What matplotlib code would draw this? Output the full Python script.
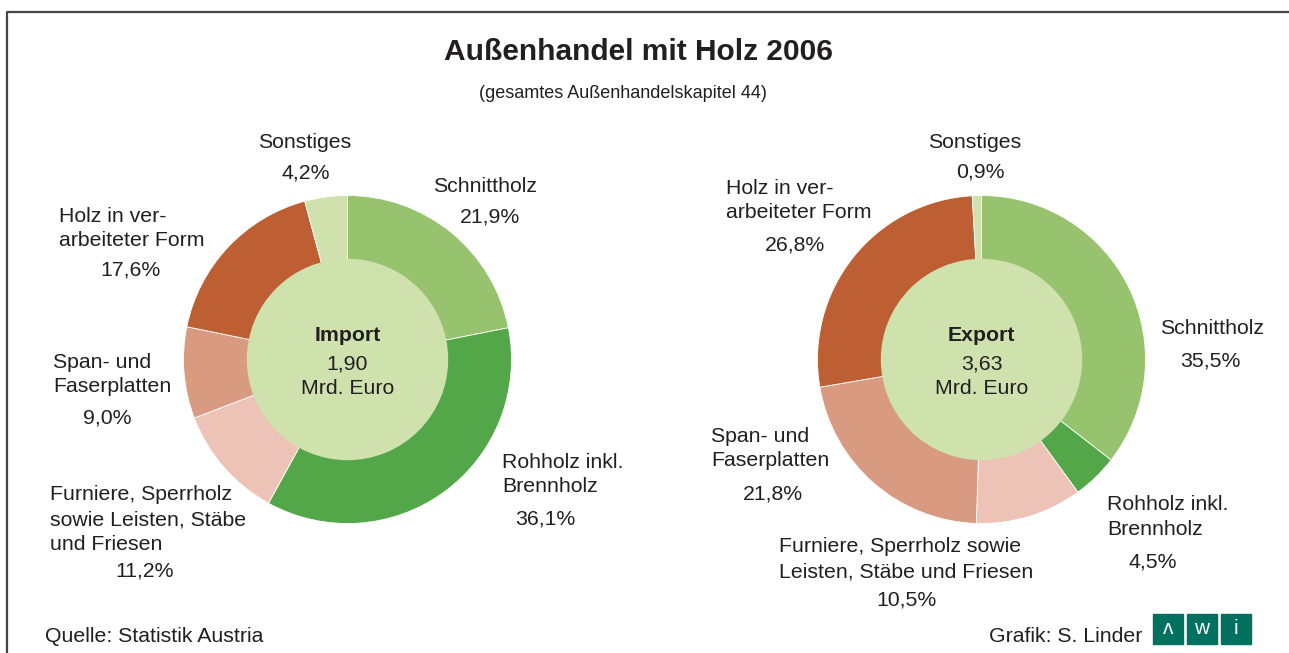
import matplotlib
matplotlib.use("Agg")
import matplotlib.pyplot as plt
from matplotlib.patches import Circle, Rectangle

plt.rcParams['font.family'] = ['Liberation Sans', 'DejaVu Sans']

# Daten (Anteile in %, Reihenfolge im Uhrzeigersinn ab 12 Uhr)
kategorien = ['Schnittholz', 'Rohholz inkl. Brennholz',
              'Furniere, Sperrholz sowie Leisten, Stäbe und Friesen',
              'Span- und Faserplatten', 'Holz in verarbeiteter Form', 'Sonstiges']
import_anteil = [21.9, 36.1, 11.2, 9.0, 17.6, 4.2]
export_anteil = [35.5, 4.5, 10.5, 21.8, 26.8, 0.9]
summe = ['1,90', '3,63']   # Mrd. Euro
farben = ['#97c36e', '#53a749', '#ecc3b6', '#d99a82', '#bd5e33', '#cfe2ae']

txt = '#231f20'
fs = 15.3

W, H = 1289, 653
fig = plt.figure(figsize=(W / 100, H / 100), dpi=100)
ax = fig.add_axes([0, 0, 1, 1])
ax.set_xlim(0, W)
ax.set_ylim(H, 0)
ax.set_aspect('equal')
ax.axis('off')


def pct(v):
    return f"{v:.1f}".replace('.', ',') + '%'


def ring(cx, cy, werte, titel, betrag):
    # y-Achse ist invertiert: startangle -90 = oben, counterclock -> visuell im Uhrzeigersinn
    ax.pie(werte, colors=farben, startangle=-90, counterclock=True,
           center=(cx, cy), radius=164, frame=True,
           wedgeprops=dict(linewidth=0.6, edgecolor='white'))
    ax.add_patch(Circle((cx, cy), 100, color=farben[5], zorder=3))
    ax.text(cx, cy - 24, titel, ha='center', va='center', fontsize=fs,
            fontweight='bold', color=txt, zorder=4)
    ax.text(cx, cy + 5, betrag, ha='center', va='center', fontsize=fs, color=txt, zorder=4)
    ax.text(cx, cy + 29, 'Mrd. Euro', ha='center', va='center', fontsize=fs, color=txt, zorder=4)


ring(347.5, 359.5, import_anteil, 'Import', summe[0])
ring(981.5, 359.5, export_anteil, 'Export', summe[1])
ax.set_xlim(0, W)
ax.set_ylim(H, 0)
ax.axis('off')

# Beschriftungen: (Zeilen, x, y der ersten Zeile, ha, x/y Prozentwert)
imp_lab = [
    (['Schnittholz'], 485, 187, 'center', 490, 217),
    (['Rohholz inkl.', 'Brennholz'], 502, 462, 'left', 545, 519),
    (['Furniere, Sperrholz', 'sowie Leisten, Stäbe', 'und Friesen'], 50, 495, 'left', 145, 571),
    (['Span- und', 'Faserplatten'], 53, 362, 'left', 107, 418),
    (['Holz in ver-', 'arbeiteter Form'], 59, 216, 'left', 131, 270),
    (['Sonstiges'], 305, 143, 'center', 306, 173),
]
exp_lab = [
    (['Schnittholz'], 1160, 329, 'left', 1210, 361),
    (['Rohholz inkl.', 'Brennholz'], 1107, 505, 'left', 1153, 562),
    (['Furniere, Sperrholz sowie', 'Leisten, Stäbe und Friesen'], 779, 547, 'left', 907, 600),
    (['Span- und', 'Faserplatten'], 711, 436, 'left', 773, 494),
    (['Holz in ver-', 'arbeiteter Form'], 726, 188, 'left', 795, 245),
    (['Sonstiges'], 975, 142, 'center', 980, 172),
]

for labs, werte in [(imp_lab, import_anteil), (exp_lab, export_anteil)]:
    for (zeilen, x, y, ha, px, py), v in zip(labs, werte):
        for i, z in enumerate(zeilen):
            ax.text(x, y + i * 24.5, z, ha=ha, va='center', fontsize=fs, color=txt)
        ax.text(px, py, pct(v), ha='center', va='center', fontsize=fs, color=txt)

# Titel
ax.text(639, 52, 'Außenhandel mit Holz 2006', ha='center', va='center',
        fontsize=21.5, fontweight='bold', color=txt)
ax.text(623, 93, '(gesamtes Außenhandelskapitel 44)', ha='center', va='center',
        fontsize=13, color=txt)

# Rahmen
ax.plot([7, 7, W], [H, 12, 12], color='#444444', lw=1.6, solid_capstyle='butt')

# Fusszeile
ax.text(45, 636, 'Quelle: Statistik Austria', ha='left', va='center', fontsize=fs, color=txt)
ax.text(1142, 636, 'Grafik: S. Linder', ha='right', va='center', fontsize=fs, color=txt)

# Logo
for x0, ch in zip([1153, 1187, 1221], ['ʌ', 'w', 'i']):
    ax.add_patch(Rectangle((x0, 614), 30, 30, color='#00705f'))
    ax.text(x0 + 15, 629, ch, ha='center', va='center', fontsize=15, color='white')

fig.savefig('out.png', dpi=100)
